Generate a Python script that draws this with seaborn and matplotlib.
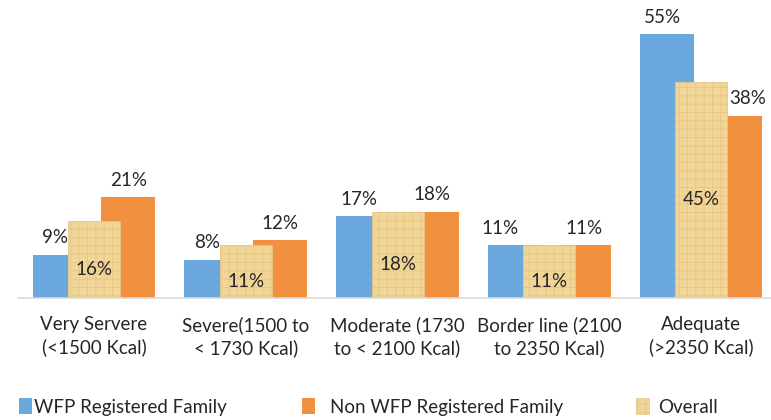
import matplotlib
matplotlib.use("Agg")
import matplotlib.pyplot as plt
import seaborn as sns
import numpy as np
from matplotlib.patches import Patch

categories = ["Very Servere\n(<1500 Kcal)", "Severe(1500 to\n< 1730 Kcal)",
              "Moderate (1730\nto < 2100 Kcal)", "Border line (2100\nto 2350 Kcal)",
              "Adequate\n(>2350 Kcal)"]
wfp = [9, 8, 17, 11, 55]
non_wfp = [21, 12, 18, 11, 38]
overall = [16, 11, 18, 11, 45]
series_names = ["WFP Registered Family", "Non WFP Registered Family", "Overall"]

sns.set_theme(style="white")
plt.rcParams['font.family'] = ['Lato', 'DejaVu Sans']
text_color = "#262626"
blue = "#6AA8DD"
orange = "#F1913F"
tex_face = "#F2D697"
tex_edge = "#E6C585"
plt.rcParams['hatch.linewidth'] = 0.6
fs = 13.5

fig = plt.figure(figsize=(7.71, 4.20), dpi=100)
ax = fig.add_axes([18/771, (420-298)/420, 1 - 18/771, 298/420])

pos = np.arange(len(categories))
off = 0.226
w = 0.356

sns.barplot(x=pos - off, y=wfp, native_scale=True, width=w, color=blue,
            saturation=1, ax=ax, errorbar=None, linewidth=0)
sns.barplot(x=pos + off, y=non_wfp, native_scale=True, width=w, color=orange,
            saturation=1, ax=ax, errorbar=None, linewidth=0)
sns.barplot(x=pos, y=overall, native_scale=True, width=0.343, color=tex_face,
            saturation=1, ax=ax, errorbar=None, linewidth=0.6,
            edgecolor=tex_edge, hatch="++")

for i in range(len(categories)):
    blue_shift = -0.03 if wfp[i] != overall[i] else -0.1
    ax.annotate(f"{wfp[i]}%", (pos[i] - off + blue_shift, wfp[i]), xytext=(0, 6),
                textcoords="offset points", ha="center", va="bottom",
                fontsize=fs, color=text_color)
    # Shift label right if it would collide with the taller overall bar
    orange_shift = 0.08 if overall[i] > non_wfp[i] + 3 else 0.0
    ax.annotate(f"{non_wfp[i]}%", (pos[i] + off + orange_shift, non_wfp[i]), xytext=(0, 6),
                textcoords="offset points", ha="center", va="bottom",
                fontsize=fs, color=text_color)
    ax.text(pos[i], overall[i] / 2 - 2.0, f"{overall[i]}%", ha="center",
            va="center", fontsize=fs, color=text_color)

ax.set_xlim(-0.5, 4.46)
ax.set_ylim(0, 298 / 4.8)
ax.set_xticks(pos)
ax.set_xticklabels(categories, fontsize=fs, color=text_color, linespacing=1.35)
ax.tick_params(axis="x", length=0, pad=13)
ax.set_yticks([])
ax.set_xlabel("")
ax.set_ylabel("")
for s in ["top", "left", "right"]:
    ax.spines[s].set_visible(False)
ax.spines["bottom"].set_color("#D9D9D9")
ax.spines["bottom"].set_linewidth(1.2)

handles = [Patch(facecolor=blue, edgecolor="none"),
           Patch(facecolor=orange, edgecolor="none"),
           Patch(facecolor=tex_face, edgecolor=tex_edge, hatch="++", linewidth=0.5)]
xs = [19, 302, 636]
pads = [0.1, 0.8, 0.5]
for h, name, x, p in zip(handles, series_names, xs, pads):
    fig.legend(handles=[h], labels=[name], loc="center left",
               bbox_to_anchor=(x / 771, 1 - 407 / 420), frameon=False,
               handlelength=0.7, handleheight=0.9, handletextpad=p,
               borderpad=0, borderaxespad=0, fontsize=fs,
               labelcolor=text_color)

fig.savefig("out.png", dpi=100)
